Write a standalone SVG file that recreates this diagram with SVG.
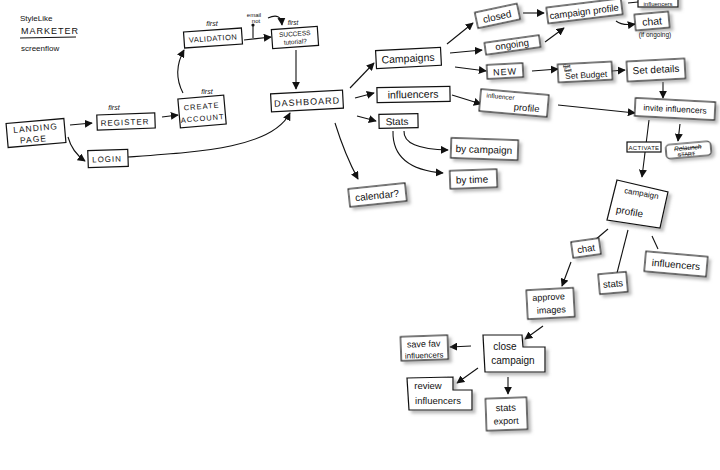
<svg xmlns="http://www.w3.org/2000/svg" width="720" height="470" viewBox="0 0 720 470">
<defs>
<style>
.b{fill:#fff;stroke:#111;stroke-width:1.2}
.s{filter:url(#sh)}
.t{font-family:"Liberation Sans",Arial,sans-serif;fill:#111;text-anchor:middle}
.c{fill:none;stroke:#111;stroke-width:1.1}
.a{marker-end:url(#ah)}
.k{text-decoration:line-through}
</style>
<marker id="ah" viewBox="0 0 10 10" refX="9" refY="5" markerWidth="8" markerHeight="8" markerUnits="userSpaceOnUse" orient="auto"><path d="M0,0 L10,5 L0,10 z" fill="#111"/></marker>
<filter id="sh" x="-20%" y="-20%" width="150%" height="170%"><feDropShadow dx="3" dy="3" stdDeviation="1.5" flood-color="#777" flood-opacity="0.5"/></filter>
</defs>
<rect width="720" height="470" fill="#fff"/>

<g id="title">
<text class="t" x="20" y="21" font-size="8" style="text-anchor:start">StyleLike</text>
<text class="t" x="21" y="34" font-size="9" letter-spacing="1" style="text-anchor:start">MARKETER</text>
<line x1="20" y1="38" x2="76" y2="37" class="c"/>
<text class="t" x="21" y="51" font-size="8" style="text-anchor:start">screenflow</text>
</g>

<g id="connectors">
<path class="c a" d="M70,125 L92,123"/>
<path class="c a" d="M68,137 Q72,152 85,161"/>
<path class="c a" d="M162,117 L178,115"/>
<path class="c a" d="M183,93 Q172,72 184,50"/>
<path class="c a" d="M244,40 L271,37"/>
<path class="c" d="M253,38 L253,26"/>
<circle cx="253" cy="25" r="1.6" fill="#111"/>
<path class="c a" d="M268,18 Q281,12 282,25"/>
<path class="c a" d="M296,50 L296,89"/>
<path class="c a" d="M128,157 C200,152 272,148 290,113"/>
<path class="c a" d="M350,88 L374,63"/>
<path class="c a" d="M355,98 L374,93"/>
<path class="c a" d="M357,116 L376,121"/>
<path class="c a" d="M335,123 Q345,155 358,179"/>
<path class="c a" d="M404,131 Q403,149 448,150"/>
<path class="c a" d="M393,131 Q392,169 443,173"/>
<path class="c a" d="M447,44 L473,23"/>
<path class="c a" d="M450,53 L482,50"/>
<path class="c a" d="M455,67 L486,71"/>
<path class="c a" d="M523,13 L544,13"/>
<path class="c a" d="M545,42 L564,28"/>
<path class="c a" d="M616,21 Q622,26 635,24"/>
<path class="c" d="M628,3 L638,2"/>
<path class="c a" d="M532,71 L558,69"/>
<path class="c a" d="M612,71 L625,70"/>
<path class="c a" d="M663,82 L663,98"/>
<path class="c a" d="M452,95 L481,104"/>
<path class="c a" d="M558,105 L635,113"/>
<path class="c a" d="M649,120 L642,177"/>
<path class="c a" d="M680,124 L678,141"/>
<path class="c" d="M608,229 L595,240"/>
<path class="c" d="M628,230 L617,273"/>
<path class="c" d="M652,236 L658,249"/>
<path class="c a" d="M571,262 L562,286"/>
<path class="c a" d="M543,326 L525,339"/>
<path class="c a" d="M471,346 L450,347"/>
<path class="c a" d="M478,368 L457,383"/>
<path class="c a" d="M508,377 L508,394"/>
</g>

<g id="landing" transform="rotate(-5 36 133)">
<rect class="b" x="7" y="121" width="58" height="24"/>
<text class="t" x="36" y="131" font-size="8.5" letter-spacing="1">LANDING</text>
<text class="t" x="33" y="142" font-size="8.5" letter-spacing="1">PAGE</text>
</g>
<g id="register">
<text class="t" x="114" y="110" font-size="7" font-style="italic">first</text>
<g transform="rotate(-2 126 121)">
<rect class="b" x="97" y="114" width="58" height="15"/>
<text class="t" x="125" y="125" font-size="8" letter-spacing="1">REGISTER</text>
</g>
</g>
<g id="login" transform="rotate(-2 108 158)">
<rect class="b" x="88" y="150" width="40" height="17"/>
<text class="t" x="107" y="162" font-size="8" letter-spacing="1">LOGIN</text>
</g>
<g id="create">
<text class="t" x="207" y="94" font-size="7" font-style="italic">first</text>
<g transform="rotate(-5 202 111)">
<rect class="b" x="179" y="97" width="46" height="29"/>
<text class="t" x="202" y="109" font-size="7.5" letter-spacing="1">CREATE</text>
<text class="t" x="202" y="121" font-size="7.5" letter-spacing="1">ACCOUNT</text>
</g>
</g>
<g id="validation">
<text class="t" x="212" y="26" font-size="7" font-style="italic">first</text>
<g transform="rotate(-4 213 38)">
<rect class="b" x="184" y="30" width="58" height="16"/>
<text class="t" x="213" y="41" font-size="7.5" letter-spacing="0.5">VALIDATION</text>
</g>
</g>
<g id="success">
<text class="t" x="254" y="17" font-size="6">email</text>
<text class="t" x="256" y="23" font-size="6">not</text>
<text class="t" x="293" y="25" font-size="6.5" font-style="italic">first</text>
<g transform="rotate(-4 295 38)">
<rect class="b" x="272" y="28" width="46" height="19"/>
<text class="t" x="295" y="36" font-size="6.5">SUCCESS</text>
<text class="t" x="295" y="44" font-size="6.5">tutorial?</text>
</g>
</g>
<g id="dashboard" transform="rotate(-3 307 101)">
<rect class="b" x="271" y="92" width="72" height="18"/>
<text class="t" x="307" y="105" font-size="9" letter-spacing="1">DASHBOARD</text>
</g>
<g id="campaigns" transform="rotate(-3 408 58)">
<rect class="b" x="376" y="49" width="65" height="18"/>
<text class="t" x="408" y="62" font-size="10.5">Campaigns</text>
</g>
<g id="influencers" transform="rotate(-1 413 94)">
<rect class="b" x="377" y="87" width="73" height="15"/>
<text class="t" x="413" y="98" font-size="10.5">influencers</text>
</g>
<g id="stats" transform="rotate(-1 398 121)">
<rect class="b" x="379" y="114" width="39" height="14"/>
<text class="t" x="397" y="125" font-size="10">Stats</text>
</g>
<g id="bycampaign" transform="rotate(2 484 149)">
<rect class="b s" x="451" y="139" width="67" height="20"/>
<text class="t" x="484" y="153" font-size="10">by campaign</text>
</g>
<g id="bytime" transform="rotate(-2 473 179)">
<rect class="b s" x="450" y="170" width="47" height="18"/>
<text class="t" x="472" y="183" font-size="10">by time</text>
</g>
<g id="calendar" transform="rotate(-6 377 195)">
<rect class="b s" x="349" y="186" width="57" height="18"/>
<text class="t" x="377" y="199" font-size="10">calendar?</text>
</g>
<g id="closed" transform="rotate(-12 497 16)">
<rect class="b s" x="476" y="8" width="43" height="16"/>
<text class="t" x="497" y="20" font-size="10">closed</text>
</g>
<g id="ongoing" transform="rotate(-8 512 45)">
<rect class="b s" x="485" y="39" width="55" height="12"/>
<text class="t" x="512" y="48" font-size="9.5">ongoing</text>
</g>
<g id="new" transform="rotate(-3 505 71)">
<rect class="b s" x="487" y="64" width="36" height="14"/>
<text class="t" x="505" y="75" font-size="9" letter-spacing="1">NEW</text>
</g>
<g id="campaignprofile1" transform="rotate(-7 584 11)">
<rect class="b s" x="547" y="3" width="75" height="16"/>
<text class="t" x="584" y="15" font-size="9.5">campaign profile</text>
</g>
<g id="influencerstop">
<rect class="b s" x="638" y="-9" width="40" height="16"/>
<text class="t" x="658" y="5.5" font-size="6">influencers</text>
</g>
<g id="chat1">
<g transform="rotate(-5 652 21)">
<rect class="b s" x="635" y="13" width="34" height="16"/>
<text class="t" x="652" y="25" font-size="10.5">chat</text>
</g>
<text class="t" x="655" y="37" font-size="6.5">(if ongoing)</text>
</g>
<g id="setbudget" transform="rotate(-3 585 72)">
<rect class="b s" x="558" y="63" width="54" height="18"/>
<text class="t k" x="567" y="67" font-size="5">Set</text>
<text class="t k" x="568" y="71" font-size="5">Set</text>
<text class="t" x="586" y="78" font-size="8.5">Set Budget</text>
</g>
<g id="setdetails" transform="rotate(-3 656 70)">
<rect class="b s" x="627" y="60" width="58" height="20"/>
<text class="t" x="656" y="73" font-size="10">Set details</text>
</g>
<g id="influencerprofile" transform="rotate(5 514 103)">
<rect class="b s" x="480" y="92" width="68" height="22"/>
<text class="t" x="500" y="100" font-size="6.5">influencer</text>
<text class="t" x="527" y="110" font-size="9.5">profile</text>
</g>
<g id="invite" transform="rotate(3 675 109)">
<rect class="b s" x="635" y="100" width="80" height="18"/>
<text class="t" x="675" y="112" font-size="8.5">invite influencers</text>
</g>
<g id="activate">
<rect class="b" x="627" y="142" width="34" height="10"/>
<text class="t" x="644" y="150" font-size="6" letter-spacing="0.3">ACTIVATE</text>
</g>
<g id="relaunch" transform="rotate(-5 688 150)">
<rect class="b s" x="666" y="143" width="45" height="14" rx="4"/>
<text class="t k" x="688" y="150" font-size="6.5" font-style="italic">Relaunch</text>
<text class="t k" x="686" y="156" font-size="5.5">START</text>
</g>
<g id="campaignprofile2">
<polygon class="b s" points="617,180 668,192 660,228 607,220"/>
<text class="t" x="641" y="196" font-size="8" transform="rotate(10 641 196)">campaign</text>
<text class="t" x="629" y="215" font-size="10" transform="rotate(10 629 215)">profile</text>
</g>
<g id="chat2" transform="rotate(-8 586 248)">
<rect class="b s" x="572" y="240" width="28" height="16"/>
<text class="t" x="586" y="252" font-size="9.5">chat</text>
</g>
<g id="stats2" transform="rotate(-5 613 283)">
<rect class="b s" x="599" y="273" width="28" height="20"/>
<text class="t" x="613" y="287" font-size="9.5">stats</text>
</g>
<g id="influencers2" transform="rotate(5 676 264)">
<rect class="b s" x="645" y="254" width="62" height="20"/>
<text class="t" x="676" y="268" font-size="10">influencers</text>
</g>
<g id="approve" transform="rotate(-3 550 303)">
<rect class="b s" x="527" y="289" width="47" height="29"/>
<text class="t" x="549" y="300" font-size="9">approve</text>
<text class="t" x="551" y="313" font-size="9">images</text>
</g>
<g id="close">
<path class="b s" d="M483,335 L522,335 L523,347 L545,347 L545,372 L485,372 Z"/>
<text class="t" x="505" y="350" font-size="10">close</text>
<text class="t" x="513" y="364" font-size="10">campaign</text>
</g>
<g id="savefav" transform="rotate(-2 424 351)">
<rect class="b s" x="401" y="336" width="47" height="24"/>
<text class="t" x="424" y="347" font-size="9">save fav</text>
<text class="t" x="424" y="358" font-size="8">influencers</text>
</g>
<g id="review">
<path class="b s" d="M407,378 L453,377 L453,390 L472,390 L472,410 L409,410 Z"/>
<text class="t" x="428" y="389" font-size="9.5">review</text>
<text class="t" x="438" y="404" font-size="9.5">influencers</text>
</g>
<g id="statsexport" transform="rotate(-2 506 414)">
<rect class="b s" x="486" y="398" width="41" height="32"/>
<text class="t" x="506" y="411" font-size="9.5">stats</text>
<text class="t" x="506" y="424" font-size="9">export</text>
</g>
</svg>
